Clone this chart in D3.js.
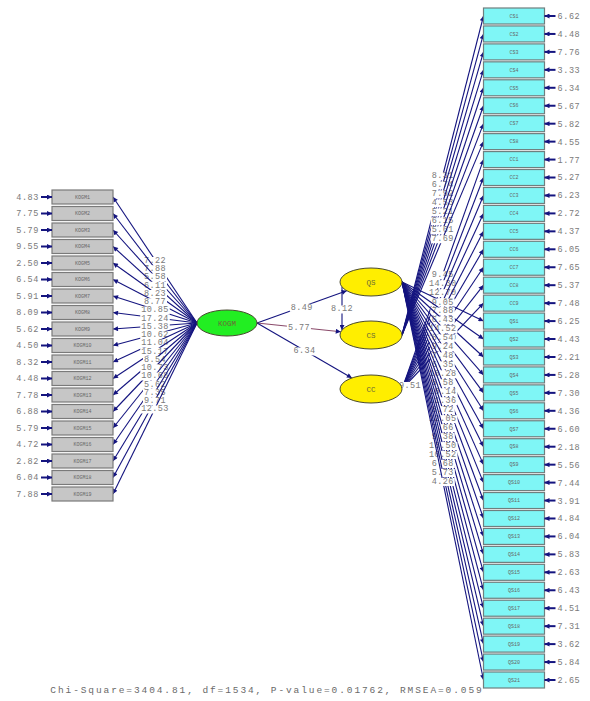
<!DOCTYPE html>
<html>
<head>
<meta charset="utf-8">
<script src="https://cdn.jsdelivr.net/npm/d3@7"></script>
<style>
  body { margin: 0; background: #fff; }
  text { font-family: "Liberation Mono", "DejaVu Sans Mono", monospace; }
</style>
</head>
<body>
<div id="chart"></div>
<script>
// KOGM indicators (left side)
const kogmItems = ["KOGM1","KOGM2","KOGM3","KOGM4","KOGM5","KOGM6","KOGM7","KOGM8","KOGM9","KOGM10",
                   "KOGM11","KOGM12","KOGM13","KOGM14","KOGM15","KOGM16","KOGM17","KOGM18","KOGM19"];
const kogmLoadings = [7.22, 7.88, 5.58, 6.11, 8.23, 8.77, 10.85, 17.24, 15.38, 10.62,
                      11.04, 15.17, 8.54, 10.73, 10.68, 5.62, 7.35, 9.71, 12.53];
const kogmErrors = [4.83, 7.75, 5.79, 9.55, 2.50, 6.54, 5.91, 8.09, 5.62, 4.50,
                    8.32, 4.48, 7.78, 6.88, 5.79, 4.72, 2.82, 6.04, 7.88];

// right side indicators
const csItems = ["CS1","CS2","CS3","CS4","CS5","CS6","CS7","CS8"];
const csLoadings = [8.31, 6.74, 7.92, 4.53, 5.21, 6.15, 5.61, 7.69];
const csErrors = [6.62, 4.48, 7.76, 3.33, 6.34, 5.67, 5.82, 4.55];

const ccItems = ["CC1","CC2","CC3","CC4","CC5","CC6","CC7","CC8","CC9"];
const ccLoadings = [9.45, 14.30, 12.70, 8.65, 6.40, 7.05, 8.52, 11.20, 9.94];
const ccErrors = [1.77, 5.27, 6.23, 2.72, 4.37, 6.05, 7.65, 5.37, 7.48];

const qsItems = ["QS1","QS2","QS3","QS4","QS5","QS6","QS7","QS8","QS9","QS10","QS11",
                 "QS12","QS13","QS14","QS15","QS16","QS17","QS18","QS19","QS20","QS21"];
const qsLoadings = [9.05, 7.88, 6.43, 14.52, 8.54, 9.24, 7.48, 6.35, 10.28, 8.58, 10.14,
                    11.36, 8.72, 12.05, 7.66, 9.38, 13.50, 10.52, 6.68, 5.73, 4.26];
const qsErrors = [6.25, 4.43, 2.21, 5.28, 7.30, 4.36, 6.60, 2.18, 5.56, 7.44, 3.91,
                  4.84, 6.04, 5.83, 2.63, 6.43, 4.51, 7.31, 3.62, 5.84, 2.65];

// structural paths
const pathFrom = ["KOGM", "KOGM", "KOGM", "QS"];
const pathTo = ["QS", "CS", "CC", "CS"];
const pathValues = [8.49, 5.77, 6.34, 8.12];
const ccExtraLabel = "9.51";

const fitText = "Chi-Square=3404.81, df=1534, P-value=0.01762, RMSEA=0.059";

const width = 590, height = 701;
const navy = "#14147f";

const svg = d3.select("#chart").append("svg")
    .attr("width", width)
    .attr("height", height);

svg.append("defs").append("marker")
    .attr("id", "arrow")
    .attr("viewBox", "0 0 10 10")
    .attr("refX", 10).attr("refY", 5)
    .attr("markerWidth", 7).attr("markerHeight", 5)
    .attr("markerUnits", "userSpaceOnUse")
    .attr("orient", "auto")
    .append("path")
    .attr("d", "M0,0L10,5L0,10z")
    .attr("fill", navy);

// layout scales
const colX = d3.scaleOrdinal()
    .domain(["errL", "boxL", "kogm", "lat", "boxR", "errR"])
    .range([41, 82.5, 227, 371, 514, 557]);
const yLeft = d3.scalePoint().domain(kogmItems).range([197, 494]);
const rightItems = csItems.concat(ccItems, qsItems);
const yRight = d3.scalePoint().domain(rightItems).range([16, 680]);
const yLat = d3.scaleOrdinal().domain(["KOGM", "QS", "CS", "CC"]).range([323, 282, 335, 389]);

const boxL = {w: 61, h: 14}, boxR = {w: 61, h: 16};
const latR = {KOGM: [30, 13], QS: [31, 14], CS: [31, 14], CC: [31, 14]};
const latFill = {KOGM: "#22ee22", QS: "#ffee00", CS: "#ffee00", CC: "#ffee00"};
const latX = n => n === "KOGM" ? colX("kogm") : colX("lat");

function edgePoint(n, px, py) {
    const cx = latX(n), cy = yLat(n), rx = latR[n][0], ry = latR[n][1];
    const dx = px - cx, dy = py - cy;
    const k = 1 / Math.sqrt((dx / rx) ** 2 + (dy / ry) ** 2);
    return [cx + dx * k, cy + dy * k];
}

const gLines = svg.append("g");

function label(g, x, y, txt) {
    const t = g.append("text")
        .attr("x", x).attr("y", y)
        .attr("dy", "0.35em")
        .attr("text-anchor", "middle")
        .attr("font-size", 8.5)
        .attr("letter-spacing", 0.4)
        .attr("fill", "#7a7a7a")
        .text(txt);
    const bb = t.node().getBBox();
    g.insert("rect", function() { return t.node(); })
        .attr("x", bb.x - 1).attr("y", bb.y + 1)
        .attr("width", bb.width + 2).attr("height", bb.height - 2)
        .attr("fill", "#fff");
}

// measurement paths: line then label, one after another
function drawLoadings(latent, items, loadings, side) {
    const cx = latX(latent), cy = yLat(latent);
    const sx = side === "L" ? cx - latR[latent][0] : cx + latR[latent][0];
    items.forEach(function(it, i) {
        const ex = side === "L" ? colX("boxL") + boxL.w / 2 : colX("boxR") - boxR.w / 2;
        const ey = side === "L" ? yLeft(it) : yRight(it);
        gLines.append("line")
            .attr("x1", sx).attr("y1", cy)
            .attr("x2", ex).attr("y2", ey)
            .attr("stroke", navy)
            .attr("stroke-width", 1.1)
            .attr("marker-end", "url(#arrow)");
        label(gLines, (sx + ex) / 2, (cy + ey) / 2, loadings[i].toFixed(2));
    });
}

drawLoadings("KOGM", kogmItems, kogmLoadings, "L");
drawLoadings("CS", csItems, csLoadings, "R");
drawLoadings("CC", ccItems, ccLoadings, "R");
drawLoadings("QS", qsItems, qsLoadings, "R");
label(gLines, latX("CC") + latR.CC[0] + 8, yLat("CC") - 4, ccExtraLabel);

// structural paths
pathFrom.forEach(function(f, i) {
    const t = pathTo[i];
    let p1, p2;
    if (f === "KOGM") {
        p1 = [latX(f) + latR[f][0], yLat(f)];
        p2 = edgePoint(t, p1[0], p1[1]);
    } else {
        const x = latX(f) - latR[f][0] + 2;
        const off = latR[f][1] * Math.sqrt(1 - ((latR[f][0] - 2) / latR[f][0]) ** 2);
        p1 = [x, yLat(f) + off];
        p2 = [x, yLat(t) - off];
    }
    gLines.append("line")
        .attr("x1", p1[0]).attr("y1", p1[1])
        .attr("x2", p2[0]).attr("y2", p2[1])
        .attr("stroke", f === "KOGM" && t === "CS" ? "#8a4a6a" : navy)
        .attr("stroke-width", 1.1)
        .attr("marker-end", "url(#arrow)");
    label(gLines, (p1[0] + p2[0]) / 2, (p1[1] + p2[1]) / 2, pathValues[i].toFixed(2));
});

// latent ellipses
const latents = ["KOGM", "QS", "CS", "CC"];
const gLat = svg.append("g");
gLat.selectAll("ellipse")
    .data(latents)
    .enter().append("ellipse")
    .attr("cx", d => latX(d))
    .attr("cy", d => yLat(d))
    .attr("rx", d => latR[d][0])
    .attr("ry", d => latR[d][1])
    .attr("fill", d => latFill[d])
    .attr("stroke", "#4a4a30")
    .attr("stroke-width", 1);
gLat.selectAll("text")
    .data(latents)
    .enter().append("text")
    .attr("x", d => latX(d))
    .attr("y", d => yLat(d))
    .attr("dy", "0.35em")
    .attr("text-anchor", "middle")
    .attr("font-size", 7.5)
    .attr("fill", "#6a6a3a")
    .text(d => d);

// observed boxes
function drawBoxes(items, yScale, col, size, fill, stroke, errors, side) {
    const g = svg.append("g");
    const cx = colX(col);
    items.forEach(function(it, i) {
        const y = yScale(it);
        g.append("rect")
            .attr("x", cx - size.w / 2).attr("y", y - size.h / 2)
            .attr("width", size.w).attr("height", size.h)
            .attr("fill", fill)
            .attr("stroke", stroke)
            .attr("stroke-width", 1.2);
        g.append("text")
            .attr("x", cx).attr("y", y)
            .attr("dy", "0.35em")
            .attr("text-anchor", "middle")
            .attr("font-family", "Liberation Sans, sans-serif")
            .attr("font-size", 5)
            .attr("fill", "#666")
            .text(it);
        // error arrow
        const bx = side === "L" ? cx - size.w / 2 : cx + size.w / 2;
        const ax = side === "L" ? bx - 11 : bx + 11;
        g.append("line")
            .attr("x1", ax).attr("y1", y)
            .attr("x2", bx).attr("y2", y)
            .attr("stroke", navy)
            .attr("stroke-width", 2)
            .attr("marker-end", "url(#arrow)");
        g.append("text")
            .attr("x", side === "L" ? ax - 2 : ax + 2)
            .attr("y", y)
            .attr("dy", "0.35em")
            .attr("text-anchor", side === "L" ? "end" : "start")
            .attr("font-size", 8.5)
            .attr("letter-spacing", 0.6)
            .attr("fill", "#7a7a7a")
            .text(errors[i].toFixed(2));
    });
}

drawBoxes(kogmItems, yLeft, "boxL", boxL, "#c6c6c6", "#7a7a7a", kogmErrors, "L");
drawBoxes(rightItems, yRight, "boxR", boxR, "#7ff6f6", "#6f7f7f",
    csErrors.concat(ccErrors, qsErrors), "R");

// fit statistics
svg.append("text")
    .attr("x", 267).attr("y", 693)
    .attr("text-anchor", "middle")
    .attr("font-size", 9.5)
    .attr("letter-spacing", 1.9)
    .attr("fill", "#6a6a6a")
    .text(fitText);
</script>
</body>
</html>
